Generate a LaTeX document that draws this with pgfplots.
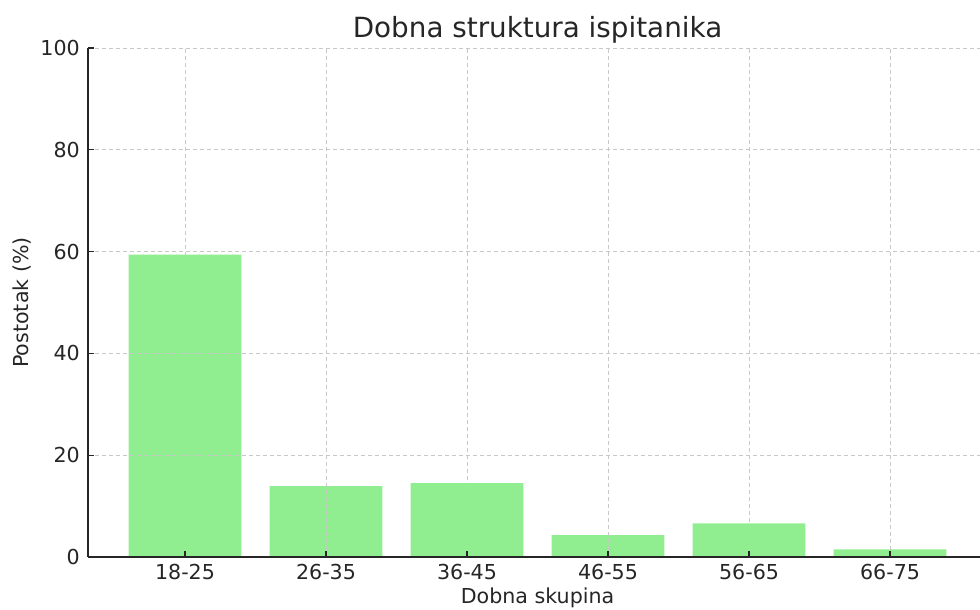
\documentclass[border=0pt]{standalone}
\usepackage{fontspec}
\setmainfont{DejaVu Sans}
\usepackage{pgfplots}
\pgfplotsset{compat=1.18}
\definecolor{barg}{HTML}{90EE90}
\definecolor{txt}{HTML}{262626}
\definecolor{gridc}{HTML}{C8C8C8}
\begin{document}
\begin{tikzpicture}
\begin{axis}[
  at={(0,0)}, anchor=south west,
  width=446pt, height=254.5pt, scale only axis,
  xmin=-0.688, xmax=5.638, ymin=0, ymax=100,
  axis x line*=bottom, axis y line*=left,
  axis line style={color=txt, line width=0.7pt},
  xtick={0,...,5},
  xticklabels={18-25,26-35,36-45,46-55,56-65,66-75},
  ytick={0,20,...,100},
  tick align=inside, major tick length=3pt,
  tick style={color=txt, line width=0.6pt},
  grid=major,
  grid style={color=gridc, dash pattern=on 2pt off 1.5pt, line width=0.4pt},
  axis on top,
  ticklabel style={font=\fontsize{10.3}{12}\selectfont, text=txt},
  /pgf/number format/assume math mode=true,
  xticklabel style={anchor=base, yshift=-11.3pt},
  yticklabel style={xshift=-0.6pt},
  clip=false,
]
\addplot[ybar, bar width=0.8, fill=barg, draw=none]
  coordinates {(0,59.4) (1,13.9) (2,14.5) (3,4.3) (4,6.6) (5,1.5)};
\node[font=\fontsize{13.9}{16}\selectfont, text=txt, yshift=9pt] at (axis cs:2.5,100) {Dobna struktura ispitanika};
\node[font=\fontsize{10.3}{12}\selectfont, text=txt, yshift=-20.5pt] at (axis cs:2.5,0) {Dobna skupina};
\node[font=\fontsize{10.3}{12}\selectfont, text=txt, rotate=90, xshift=0pt, yshift=33pt] at (axis cs:-0.688,50) {Postotak (\%)};
\end{axis}
\pgfresetboundingbox
\path (-44pt,-26.5pt) rectangle (446pt,278.5pt);
\end{tikzpicture}
\end{document}
